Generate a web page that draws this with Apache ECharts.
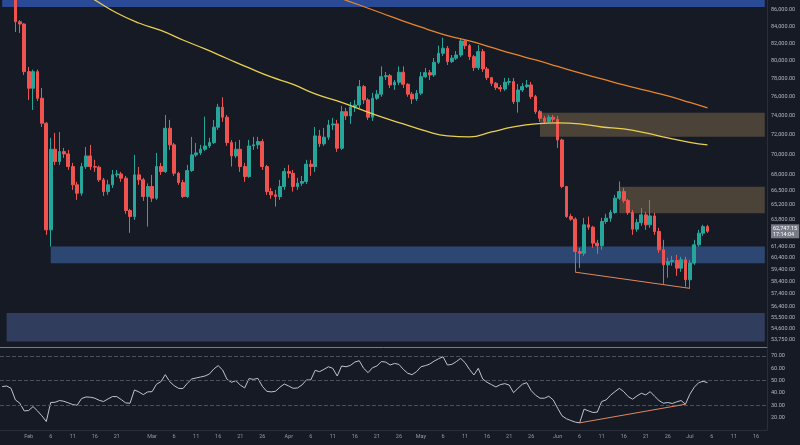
<!DOCTYPE html>
<html><head><meta charset="utf-8">
<script src="https://cdn.jsdelivr.net/npm/echarts@6/dist/echarts.min.js"></script>
<style>html,body{margin:0;padding:0;background:#161a25;}#c{width:800px;height:445px;}</style>
</head><body><div id="c"></div>
<script>
// ---- categories ----
const startYear = 2025, startMonth = 0, startDay = 26;
const dayCount = 174;
const monthNames = ['Jan','Feb','Mar','Apr','May','Jun','Jul','Aug','Sep','Oct','Nov','Dec'];
const labelDays = [1, 6, 11, 16, 21, 26];
const dates = [];
for (let k = 0; k < dayCount; k++) {
  dates.push(new Date(Date.UTC(startYear, startMonth, startDay + k)).toISOString().slice(0, 10));
}

// ---- daily candles: [open, close, low, high], first candle at day index 3 ----
const candleStart = 3;
const dailyOHLC = [
[88200,84580,83350,88600],[84580,84300,83230,84780],[84300,78770,78400,84400],[78770,76930,75660,79300],
[76930,78770,74590,79000],[78770,75840,75550,79000],[75840,73190,72800,76960],[73190,62880,62430,73300],
[62880,70530,61400,71680],[70530,69300,68970,72190],[69300,70290,68970,72290],[70290,70060,69660,70660],
[70060,68810,68480,70460],[68810,67040,66560,69170],[67040,66250,65620,67330],[66250,68810,66000,69170],
[68810,69860,68580,70760],[69860,68810,68480,70970],[68810,68750,68290,69470],[68750,67520,67330,68900],
[67520,66400,66000,67710],[66400,67040,66090,67520],[67040,68000,66750,68480],[68000,68090,67800,68480],
[68090,67680,67330,68290],[67680,64630,64330,67900],[64630,64080,62610,64790],[64080,68000,63780,69960],
[68000,67520,67040,68780],[67520,65930,65530,67710],[65930,66880,63170,67180],[66880,65780,65430,68000],
[65780,68810,65620,70160],[68810,68320,68000,69170],[68320,72670,68190,74060],[72670,70970,70460,73540],
[70970,68160,67900,71170],[68160,67260,67040,68290],[67260,65930,65800,67520],[65930,68420,65800,68970],
[68420,69960,68290,71780],[69960,70160,69760,71170],[70160,70530,69960,70970],[70530,70860,70360,73880],
[70860,71200,70660,71680],[71200,72780,71070,73540],[72780,74880,72500,75230],[74880,73820,73330,75950],
[73820,71200,70870,74060],[71200,69860,68810,71470],[69860,70530,69660,71270],[70530,68810,68290,71470],
[68810,67840,67330,69170],[67840,70860,67710,71470],[70860,70970,70460,71780],[70970,71300,70560,71780],
[71300,68810,68480,71570],[68810,66400,66090,68970],[66400,66090,65720,66750],[66090,65930,65000,66560],
[65930,66880,65620,67520],[66880,68320,66560,68680],[68320,68160,67710,68970],[68160,66880,66400,68480],
[66880,67200,66560,67710],[67200,67360,66940,67900],[67360,69040,67130,69470],[69040,68810,67900,69470],
[68810,71880,68290,72800],[71880,71070,70760,72500],[71070,71750,70860,72700],[71750,73010,71470,73540],
[73010,73120,72500,73750],[73120,70630,70260,73540],[70630,74410,70460,75020],[74410,73960,73540,74800],
[73960,74910,73120,75440],[74910,75120,74380,75660],[75120,77110,74800,77840],[77110,75660,75230,77290],
[75660,73820,73540,75860],[73820,75840,73430,76420],[75840,76280,75660,76740],[76280,78210,76000,79360],
[78210,78320,77840,78740],[78320,77290,76960,78510],[77290,77590,76740,77840],[77590,78700,77290,79360],
[78700,77370,76960,79360],[77370,76280,76000,77480],[76280,75770,75230,76530],[75770,76390,75550,76740],
[76390,78210,76200,78740],[78210,78660,78070,79190],[78660,78400,77840,78960],[78400,79830,78180,80320],
[79830,80860,79640,81740],[80860,81440,80550,82680],[81440,79900,79520,81700],[79900,80300,79750,80660],
[80300,80660,80090,81120],[80660,82290,80440,82610],[82290,81740,81350,82400],[81740,80470,80090,81940],
[80470,79220,78850,80660],[79220,81050,78960,81820],[81050,79070,78740,81350],[79070,78100,77840,79300],
[78100,77480,77180,78180],[77480,77000,76740,77620],[77000,76850,76530,77290],[76850,77590,76640,78070],
[77590,77660,77290,78070],[77660,75470,75230,78070],[75470,76740,74300,77400],[76740,77110,76530,77510],
[77110,77290,76960,77840],[77290,76020,75770,77620],[76020,74410,74170,76200],[74410,73710,73330,74590],
[73710,73370,73120,73960],[73370,73820,73220,74060],[73820,73610,73330,74060],[73610,71470,70660,73960],
[71470,66880,66720,71600],[66880,64080,63960,66940],[64080,63840,63690,64330],[63840,60970,59200,64000],
[60970,60820,59560,61290],[60820,63330,60590,63960],[63330,63120,62880,64080],[63120,61700,61290,63240],
[61700,61460,60770,61990],[61460,63630,61110,63960],[63630,63930,63420,64330],[63930,64450,63600,64690],
[64450,65780,64330,66090],[65780,66400,65620,67360],[66400,65560,65340,66750],[65560,64450,64235,65720],
[64450,62940,62430,64690],[62940,63530,62700,63870],[63530,64235,63240,64850],[64235,63330,62880,64510],
[63330,64140,63060,65620],[64140,62730,62430,64420],[62730,61110,60850,63060],[61110,59820,58220,61990],
[59820,60100,58730,60420],[60100,60190,59740,60590],[60190,59540,58890,60680],[59540,60250,59230,60510],
[60250,58560,58000,60510],[58560,59970,57850,60250],[59970,61550,59820,61990],[61550,62580,61380,62880],
[62580,63170,62340,63330],[63170,62747.15,62610,63330]
];

// ---- RSI per day from index 0 ----
const rsiValues = [
45.2,45.7,43.8,34.4,31.7,25.5,25.8,29.0,25.5,21.5,
16.9,32.3,32.5,33.9,33.3,32.0,30.6,30.1,35.5,36.8,
36.6,35.8,34.1,33.1,35.2,37.1,37.1,34.7,32.0,31.7,
42.5,40.9,38.7,40.9,41.1,47.1,49.2,54.9,49.2,46.0,
43.8,43.6,47.9,51.4,52.2,53.0,53.8,55.4,59.5,62.2,
58.7,51.1,48.7,50.0,46.5,44.1,51.7,51.1,51.9,45.5,
41.4,40.9,41.4,44.7,47.3,45.7,43.8,44.1,46.5,50.6,
50.6,58.4,57.3,59.2,61.3,60.0,53.8,61.9,61.3,62.4,
65.1,66.2,60.0,56.5,60.5,61.9,65.5,65.1,62.7,64.0,
63.2,59.2,56.0,54.9,57.3,61.3,62.2,63.5,65.9,67.8,
69.4,62.7,63.2,65.4,68.1,64.6,59.2,54.6,60.0,51.4,
48.7,46.8,44.9,46.8,47.6,46.5,40.3,43.8,47.1,48.4,
42.0,38.2,35.8,35.8,37.4,34.4,27.7,21.5,19.1,17.7,
16.4,15.8,26.9,25.5,24.2,24.5,33.1,34.4,38.2,41.1,
43.8,41.1,37.1,35.0,37.6,39.8,38.5,41.1,37.4,33.9,
31.7,32.3,31.5,32.8,33.9,30.9,39.0,44.7,48.4,49.5,
48.4
];

// ---- moving averages [dayIndex, value] ----
const yellowMA = [[16,88865],[21,87234],[26,85630],[31,84420],[36,83530],[41,82400],[46,81360],[51,80260],
[56,79185],[61,78180],[66,77350],[71,76310],[76,75550],[81,74700],[86,73850],[91,73120],[96,72390],
[101,71880],[106,71780],[111,72290],[116,72800],[121,73120],[126,73220],[131,73120],[136,72800],
[141,72600],[146,72190],[151,71680],[156,71220],[160,70965]];
const orangeMA = [[71,88620],[76,87600],[81,86614],[86,85633],[91,84660],[96,83760],[101,82930],[106,82290],
[111,81530],[116,80780],[121,80090],[126,79360],[131,78620],[136,77960],[141,77290],[146,76690],
[151,76090],[156,75390],[160,74800]];

// ---- zones [startIndex, endIndex, top price, bottom price] ----
const zones = [
  [0, 173, 87234, 86370],
  [122, 173, 74300, 71800],
  [140, 173, 66870, 64390],
  [11, 173, 61400, 59960],
  [1, 173, 55860, 53630]
];
const priceDivergence = [[130, 59200], [156, 57850]];
const rsiDivergence = [[131, 15.8], [155, 30.9]];
const rsiLevels = [70, 50, 30];

// ---- tick labels ----
const priceTicks = [86000,84000,82000,80000,78000,76000,74000,72000,70000,68000,66500,65200,63800,
61400,60400,59400,58400,57400,56400,55500,54600,53750];
const lastPrice = 62747.15;
const lastTime = '17:14:04';
const priceMin = 53214, priceMax = 87234;
const rsiMin = 10, rsiMax = 75.7, rsiInterval = 10;

// ---- styles ----
const zoneColors = ['#2a4a96','rgba(140,115,80,0.45)','rgba(140,115,80,0.45)','rgba(65,110,180,0.55)','rgba(80,105,160,0.45)'];
const upColor = '#26a69a', downColor = '#ef5350';
const textColor = '#b2b5be';
const font = 'Roboto';
const hiddenLine = {color: 'rgba(0,0,0,0)', width: 1, type: 'solid'};

const fmt = v => v.toLocaleString('en-US', {minimumFractionDigits: 2, maximumFractionDigits: 2});
const candleData = dailyOHLC.map((r, k) => [dates[k + candleStart], r[0], r[1], r[2], r[3]]);

const chart = echarts.init(document.getElementById('c'), null, {renderer: 'canvas'});
chart.setOption({
  backgroundColor: '#161a25',
  animation: false,
  grid: [
    {left: 0, right: 33, top: 0, height: 347},
    {left: 0, right: 33, top: 349, height: 81}
  ],
  xAxis: [
    {gridIndex: 0, type: 'category', data: dates, boundaryGap: true,
      axisLabel: {show: false}, axisTick: {show: false}, splitLine: {show: false},
      axisLine: {show: true, lineStyle: {color: '#7d7a86', width: 1}}},
    {gridIndex: 1, type: 'category', data: dates, boundaryGap: true,
      axisTick: {show: false}, splitLine: {show: false},
      axisLine: {show: true, lineStyle: {color: '#2a2e39'}},
      axisLabel: {
        color: '#9598a1', fontSize: 5.5, fontFamily: font, margin: 4, hideOverlap: false,
        interval: (idx, val) => {
          const m = +val.slice(5, 7), d = +val.slice(8, 10);
          if (m === 1) return false;
          if (m === 2 && d === 26) return false;
          return labelDays.indexOf(d) >= 0;
        },
        formatter: val => {
          const d = +val.slice(8, 10);
          return d === 1 ? monthNames[+val.slice(5, 7) - 1] : String(d);
        }
      }}
  ],
  yAxis: [
    {gridIndex: 0, type: 'log', logBase: 10, min: priceMin, max: priceMax, position: 'right',
      axisLabel: {show: false}, axisTick: {show: false}, splitLine: {show: false},
      axisLine: {show: true, lineStyle: {color: '#2a2e39'}}},
    {gridIndex: 1, type: 'value', min: rsiMin, max: rsiMax, interval: rsiInterval, position: 'right',
      axisTick: {show: false}, splitLine: {show: false},
      axisLine: {show: true, lineStyle: {color: '#2a2e39'}},
      axisLabel: {color: textColor, fontSize: 5.5, fontFamily: font, margin: 4,
        showMinLabel: false, showMaxLabel: false, formatter: v => v.toFixed(2)}}
  ],
  series: [
    {
      type: 'candlestick', xAxisIndex: 0, yAxisIndex: 0, z: 2,
      data: candleData, encode: {x: 0, y: [1, 2, 3, 4]},
      barWidth: '74%', clip: true,
      itemStyle: {color: upColor, color0: downColor, borderColor: upColor, borderColor0: downColor, borderWidth: 1},
      markArea: {
        silent: true,
        data: zones.map((z, k) => [
          {xAxis: dates[z[0]], yAxis: z[2], itemStyle: {color: zoneColors[k]}},
          {xAxis: dates[z[1]], yAxis: z[3]}
        ])
      },
      markLine: {
        silent: true, symbol: ['none', 'none'], animation: false,
        lineStyle: hiddenLine,
        label: {show: true, position: 'end', distance: 4, color: textColor, fontSize: 5.5, fontFamily: font},
        data: priceTicks.map(v => ({yAxis: v, label: {formatter: fmt(v)}})).concat([
          {yAxis: lastPrice, label: {formatter: fmt(lastPrice) + '\n' + lastTime, backgroundColor: '#787b86',
            color: '#ffffff', padding: [1, 2, 1, 2], lineHeight: 6}},
          [{coord: [dates[priceDivergence[0][0]], priceDivergence[0][1]],
            lineStyle: {color: '#e0875f', width: 1, type: 'solid'}, label: {show: false}},
           {coord: [dates[priceDivergence[1][0]], priceDivergence[1][1]]}]
        ])
      }
    },
    {
      type: 'line', xAxisIndex: 0, yAxisIndex: 0, z: 3, smooth: true, showSymbol: false, connectNulls: true,
      data: yellowMA.map(p => [dates[p[0]], p[1]]),
      lineStyle: {color: '#e9cf4f', width: 1.3}
    },
    {
      type: 'line', xAxisIndex: 0, yAxisIndex: 0, z: 3, smooth: true, showSymbol: false, connectNulls: true,
      data: orangeMA.map(p => [dates[p[0]], p[1]]),
      lineStyle: {color: '#e8852a', width: 1.3}
    },
    {
      type: 'line', xAxisIndex: 1, yAxisIndex: 1, z: 3, showSymbol: false,
      data: rsiValues,
      lineStyle: {color: '#bcc3d2', width: 1},
      markLine: {
        silent: true, symbol: ['none', 'none'], animation: false,
        label: {show: false},
        data: rsiLevels.map(v => ({yAxis: v, lineStyle: {color: '#4c505c', type: 'dashed', width: 1}})).concat([
          [{coord: [dates[rsiDivergence[0][0]], rsiDivergence[0][1]],
            lineStyle: {color: '#e0875f', width: 1, type: 'solid'}},
           {coord: [dates[rsiDivergence[1][0]], rsiDivergence[1][1]]}]
        ])
      }
    }
  ]
});
</script>
</body></html>
